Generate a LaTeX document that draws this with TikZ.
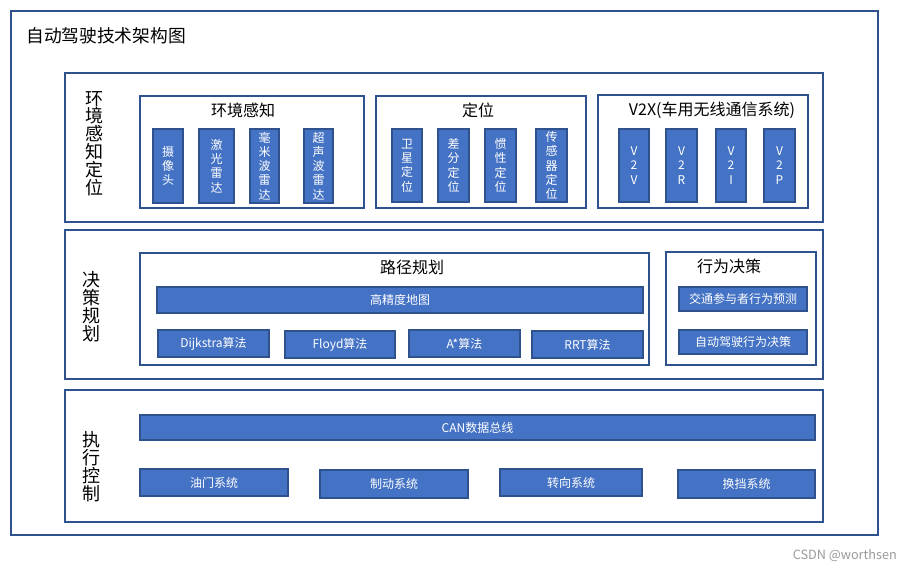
\documentclass[tikz,border=0pt]{standalone}
\usepackage{fontspec}
\setmainfont{Noto Sans CJK SC}
\definecolor{boxblue}{HTML}{4472C4}
\definecolor{edgeblue}{HTML}{2F528F}
\tikzset{
  area/.style args={(#1,#2)-(#3,#4)}{minimum width={0.75pt*(#3-#1)}, minimum height={0.75pt*(#4-#2)}, at={({(#1+#3)/2},{(#2+#4)/2})}},
  frame/.style={draw=edgeblue, line width=0.9pt, inner sep=0pt, outer sep=0pt},
  bluebox/.style={draw=edgeblue, fill=boxblue, line width=0.8pt, inner sep=0pt, outer sep=0pt, text=white, align=center, font=\fontsize{9}{10.7}\selectfont},
  layertitle/.style={align=center, inner sep=0pt, font=\fontsize{13.5}{13.4}\selectfont},
  subtitle/.style={inner sep=0pt, font=\fontsize{12}{14}\selectfont},
}

\begin{document}
\begin{tikzpicture}[x=0.75pt, y=-0.75pt]
\useasboundingbox (0,0) rectangle (912,571);
\node[frame, area={(11,11)-(878,535)}] (outer) {};
\node[anchor=west, inner sep=0pt, font=\fontsize{13.3}{16}\selectfont] (title) at (26,36) {自动驾驶技术架构图};

% 环境感知定位
\node[frame, area={(65,73)-(823,222)}] (perc) {};
\node[layertitle] (perclabel) at (94,143.5) {环\\境\\感\\知\\定\\位};
\node[frame, area={(140,96)-(364,208)}] (sense) {};
\node[subtitle] (sensetitle) at (243,110) {环境感知};
\node[bluebox, area={(153,129)-(183,203)}] (cam) {摄\\像\\头};
\node[bluebox, area={(199,129)-(234,203)}] (lidar) {激\\光\\雷\\达};
\node[bluebox, area={(250,129)-(279,203)}] (mmw) {毫\\米\\波\\雷\\达};
\node[bluebox, area={(304,129)-(333,203)}] (ultra) {超\\声\\波\\雷\\达};
\node[frame, area={(376,96)-(586,208)}] (loc) {};
\node[subtitle] (loctitle) at (478,110) {定位};
\node[bluebox, area={(392,129)-(422,202)}] (gnss) {卫\\星\\定\\位};
\node[bluebox, area={(438,129)-(469,202)}] (rtk) {差\\分\\定\\位};
\node[bluebox, area={(485,129)-(516,202)}] (imu) {惯\\性\\定\\位};
\node[bluebox, area={(536,129)-(567,202)}] (senseloc) {传\\感\\器\\定\\位};
\node[frame, area={(598,95)-(808,208)}] (v2x) {};
\node[subtitle] (v2xtitle) at (712,110) {V2X(车用无线通信系统)};
\node[bluebox, area={(619,129)-(649,202)}] (v2v) {V\\2\\V};
\node[bluebox, area={(666,129)-(697,202)}] (v2r) {V\\2\\R};
\node[bluebox, area={(716,129)-(746,202)}] (v2i) {V\\2\\I};
\node[bluebox, area={(764,129)-(795,202)}] (v2p) {V\\2\\P};

% 决策规划
\node[frame, area={(65,230)-(823,379)}] (plan) {};
\node[layertitle] (planlabel) at (91,306.5) {决\\策\\规\\划};
\node[frame, area={(140,253)-(649,365)}] (path) {};
\node[subtitle] (pathtitle) at (412,267) {路径规划};
\node[bluebox, area={(157,287)-(643,313)}] (hdmap) {高精度地图};
\node[bluebox, area={(158,330)-(269,357)}] (dijk) {Dijkstra算法};
\node[bluebox, area={(285,331)-(395,358)}] (floyd) {Floyd算法};
\node[bluebox, area={(409,330)-(520,357)}] (astar) {A*算法};
\node[bluebox, area={(532,331)-(643,358)}] (rrt) {RRT算法};
\node[frame, area={(666,252)-(816,365)}] (behav) {};
\node[subtitle] (behavtitle) at (729,266) {行为决策};
\node[bluebox, area={(679,287)-(807,311)}] (predict) {交通参与者行为预测};
\node[bluebox, area={(679,330)-(807,354)}] (decide) {自动驾驶行为决策};

% 执行控制
\node[frame, area={(65,390)-(823,522)}] (ctrl) {};
\node[layertitle] (ctrllabel) at (91,466.5) {执\\行\\控\\制};
\node[bluebox, area={(140,415)-(815,440)}] (can) {CAN数据总线};
\node[bluebox, area={(140,469)-(288,496)}] (throttle) {油门系统};
\node[bluebox, area={(320,470)-(468,498)}] (brake) {制动系统};
\node[bluebox, area={(500,469)-(642,496)}] (steer) {转向系统};
\node[bluebox, area={(678,470)-(815,498)}] (gear) {换挡系统};

\node[anchor=east, inner sep=0pt, text=gray!80, font=\fontsize{9.5}{11}\selectfont] (mark) at (897,556) {CSDN @worthsen};
\end{tikzpicture}
\end{document}
